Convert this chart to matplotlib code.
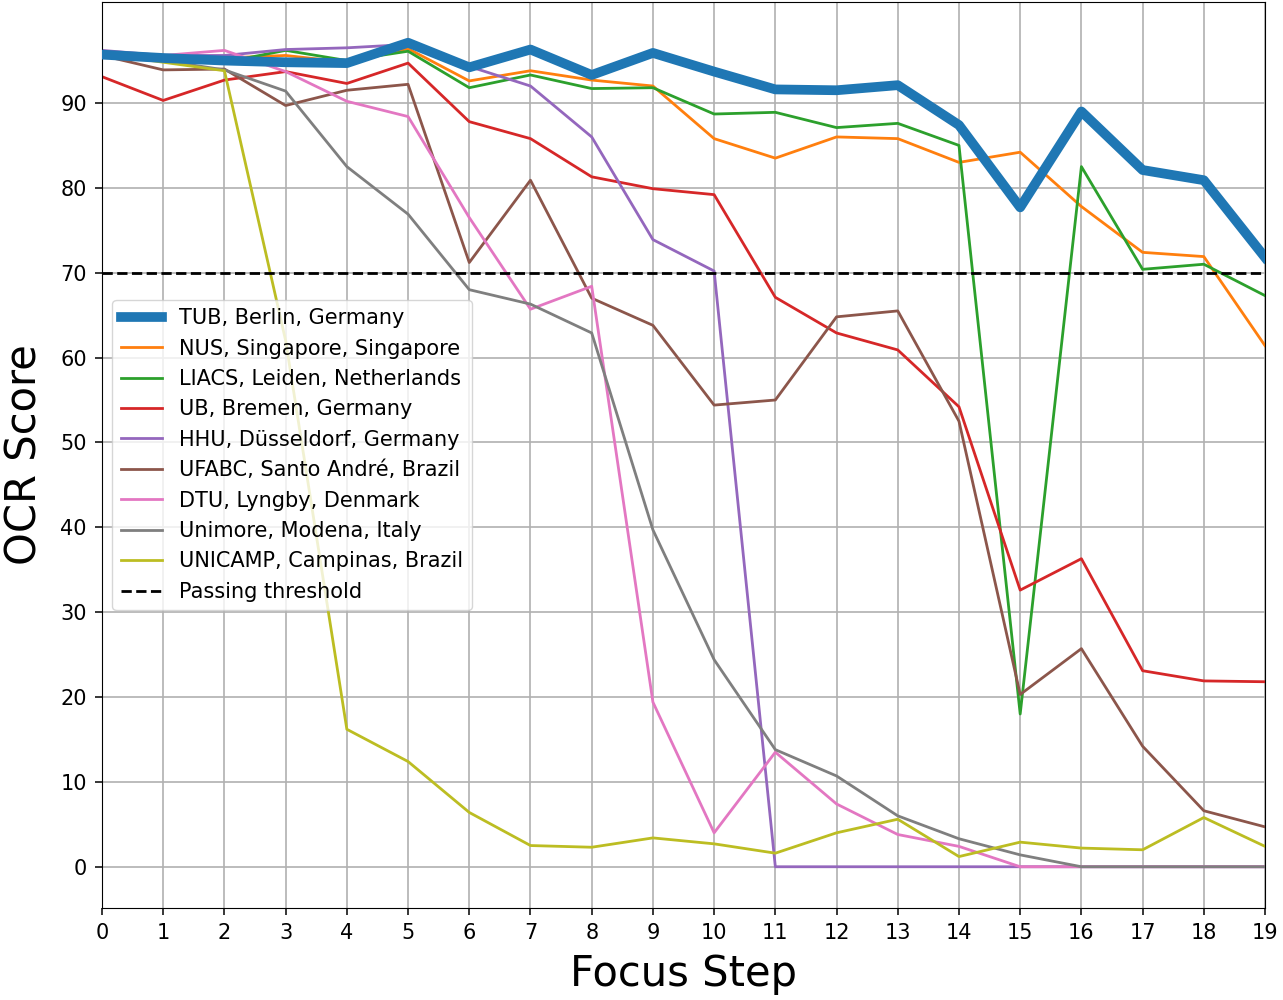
import matplotlib
matplotlib.use('Agg')
import matplotlib.pyplot as plt
import numpy as np

# focus steps
steps = list(range(20))

# OCR scores per site
tub = [95.7, 95.3, 95.0, 94.8, 94.7, 97.1, 94.2, 96.3, 93.3, 95.9,
       93.7, 91.6, 91.5, 92.1, 87.4, 77.7, 89.0, 82.1, 80.9, 71.8]
nus = [96.0, 95.5, 95.3, 95.6, 94.8, 96.4, 92.6, 93.8, 92.7, 92.0,
       85.8, 83.5, 86.0, 85.8, 83.0, 84.2, 77.8, 72.4, 71.9, 61.4]
liacs = [95.8, 95.2, 94.8, 96.2, 95.0, 96.1, 91.8, 93.3, 91.7, 91.8,
         88.7, 88.9, 87.1, 87.6, 85.0, 18.0, 82.5, 70.4, 71.0, 67.3]
ub = [93.1, 90.3, 92.7, 93.7, 92.3, 94.7, 87.8, 85.8, 81.3, 79.9,
      79.2, 67.1, 62.9, 60.9, 54.2, 32.6, 36.3, 23.1, 21.9, 21.8]
hhu = [96.2, 95.6, 95.6, 96.3, 96.5, 96.9, 94.3, 92.0, 86.0, 73.9,
       70.2, 0, 0, 0, 0, 0, 0, 0, 0, 0]
ufabc = [95.6, 93.9, 94.0, 89.7, 91.5, 92.2, 71.2, 80.9, 67.0, 63.8,
         54.4, 55.0, 64.8, 65.5, 52.5, 20.3, 25.7, 14.2, 6.6, 4.7]
dtu = [95.9, 95.6, 96.2, 93.7, 90.2, 88.4, 76.5, 65.7, 68.4, 19.4,
       4.0, 13.5, 7.4, 3.8, 2.4, 0, 0, 0, 0, 0]
unimore = [95.8, 95.0, 93.9, 91.4, 82.5, 76.9, 68.0, 66.3, 62.9, 39.7,
           24.4, 13.8, 10.7, 6.0, 3.3, 1.4, 0, 0, 0, 0]
unicamp = [95.8, 94.8, 93.8, 62.0, 16.2, 12.4, 6.4, 2.5, 2.3, 3.4,
           2.7, 1.6, 4.0, 5.6, 1.2, 2.9, 2.2, 2.0, 5.8, 2.4]

threshold = 70

series = [
    ('NUS, Singapore, Singapore', nus, 'tab:orange'),
    ('LIACS, Leiden, Netherlands', liacs, 'tab:green'),
    ('UB, Bremen, Germany', ub, 'tab:red'),
    ('HHU, Düsseldorf, Germany', hhu, 'tab:purple'),
    ('UFABC, Santo André, Brazil', ufabc, 'tab:brown'),
    ('DTU, Lyngby, Denmark', dtu, 'tab:pink'),
    ('Unimore, Modena, Italy', unimore, 'tab:gray'),
    ('UNICAMP, Campinas, Brazil', unicamp, 'tab:olive'),
]

fig = plt.figure(figsize=(12.83, 10), dpi=100)
ax = fig.add_subplot(111)
fig.subplots_adjust(left=0.0795, right=0.986, bottom=0.092, top=0.998)

ax.plot(steps, tub, label='TUB, Berlin, Germany', color='tab:blue', linewidth=7, zorder=5)
for name, vals, col in series:
    ax.plot(steps, vals, label=name, color=col, linewidth=2)

ax.axhline(threshold, color='black', linestyle='--', linewidth=2, label='Passing threshold', zorder=6)

ax.set_xlim(0, 19)
ax.set_ylim(-4.86, 101.9)
ax.set_xticks(steps)
ax.set_yticks(np.arange(0, 100, 10))
ax.tick_params(labelsize=15, length=4.8, width=1.1, pad=6)

ax.set_xlabel('Focus Step', fontsize=30, labelpad=7)
ax.set_ylabel('OCR Score', fontsize=30, labelpad=11)

ax.grid(True, color='#b0b0b0', linewidth=1.2)
ax.legend(loc='center left', fontsize=15)

fig.savefig('out.png')
plt.close()
